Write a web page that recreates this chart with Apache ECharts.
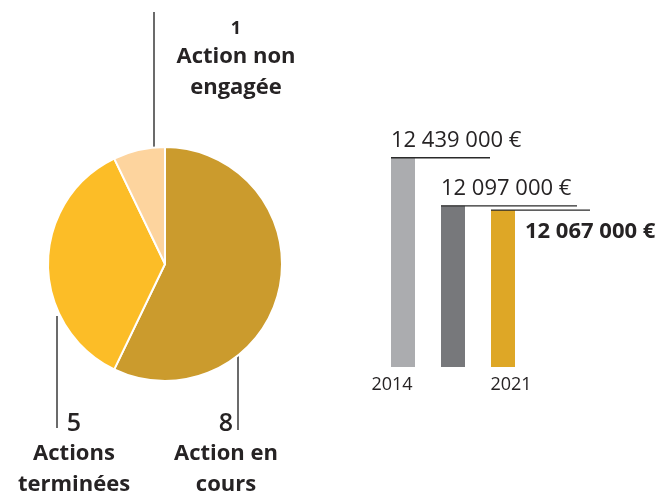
<!DOCTYPE html>
<html>
<head>
<meta charset="utf-8">
<script src="https://cdn.jsdelivr.net/npm/echarts@6/dist/echarts.min.js"></script>
<style>
  html, body { margin: 0; padding: 0; background: #fff; }
  #main { width: 661px; height: 493px; }
</style>
</head>
<body>
<div id="main"></div>
<script>
// données du camembert
var pieNames = ['Action en\ncours', 'Actions\nterminées', 'Action non\nengagée'];
var pieValues = [8, 5, 1];
// données des barres
var barYears = ['2014', '', '2021'];
var barValues = [12439000, 12097000, 12067000];

var pieColors = ['#CB9B2D', '#FCBD27', '#FDD49E'];
var barColors = ['#ABACAF', '#77787B', '#DEA726'];

// placement des étiquettes du camembert (x centre, y haut, trait vertical)
var pieLabelPos = [
  { x: 226, y: 410, lineX: 238, lineTop: 324, lineBottom: 430, big: true },
  { x: 74, y: 410, lineX: 57, lineTop: 316, lineBottom: 428, big: true },
  { x: 236, y: 16, lineX: 154, lineTop: 12, lineBottom: 198, big: false }
];
// style des annotations de barres
var barNotes = [
  { len: 99, dx: 0, dy: -6, vAlign: 'bottom', bold: false },
  { len: 136, dx: 0, dy: -6, vAlign: 'bottom', bold: false },
  { len: 99, dx: 34, dy: 11, vAlign: 'top', bold: true }
];

var FONT = '"Open Sans", "Noto Sans", sans-serif';
var TXT = '#262324';

function euros(v) {
  return String(v).replace(/\B(?=(\d{3})+(?!\d))/g, ' ') + ' €';
}

var chart = echarts.init(document.getElementById('main'));
var option = {
  animation: false,
  textStyle: { fontFamily: FONT },
  grid: { left: 378, width: 150, top: 100, bottom: 126 },
  xAxis: {
    type: 'category',
    data: barYears,
    axisLine: { show: false },
    axisTick: { show: false },
    axisLabel: {
      margin: 9,
      color: TXT,
      fontSize: 18,
      fontFamily: FONT,
      formatter: function (v, i) {
        if (!v) return '';
        return i === 0 ? '{l|' + v + '}' : '{r|' + v + '}';
      },
      rich: {
        l: { fontSize: 18, color: TXT, padding: [0, 22, 0, 0] },
        r: { fontSize: 18, color: TXT, padding: [0, 0, 0, 16] }
      }
    }
  },
  yAxis: {
    type: 'value',
    min: 10950,
    max: 12850,
    show: false,
    splitLine: { show: false }
  },
  series: [
    {
      type: 'pie',
      center: [165, 264],
      radius: 117,
      startAngle: 90,
      clockwise: true,
      silent: true,
      itemStyle: { borderColor: '#fff', borderWidth: 2 },
      data: pieValues.map(function (v, i) {
        return { value: v, name: pieNames[i], itemStyle: { color: pieColors[i] } };
      }),
      label: {
        show: true,
        position: 'outside',
        overflow: 'none',
        width: 200,
        formatter: function (p) {
          var big = pieLabelPos[p.dataIndex].big;
          return (big ? '{nb|' : '{ns|') + p.value + '}\n{t|' + p.name + '}';
        },
        rich: {
          nb: { fontSize: 25, fontWeight: 600, color: TXT, lineHeight: 28, fontFamily: FONT },
          ns: { fontSize: 18, fontWeight: 700, color: TXT, lineHeight: 25, fontFamily: FONT },
          t: { fontSize: 22, fontWeight: 700, color: TXT, lineHeight: 31, fontFamily: FONT, align: 'center' }
        }
      },
      labelLine: {
        show: true,
        lineStyle: { color: '#3a3a3a', width: 1.5 }
      },
      labelLayout: function (params) {
        var c = pieLabelPos[params.dataIndex];
        return {
          x: c.x,
          y: c.y,
          align: 'center',
          verticalAlign: 'top',
          hideOverlap: false,
          labelLinePoints: [[c.lineX, c.lineTop], [c.lineX, (c.lineTop + c.lineBottom) / 2], [c.lineX, c.lineBottom]]
        };
      }
    },
    {
      type: 'bar',
      barWidth: 24,
      silent: true,
      data: barValues.map(function (v, i) {
        return { value: v / 1000, itemStyle: { color: barColors[i] } };
      })
    },
    {
      type: 'custom',
      silent: true,
      z: 5,
      data: barValues.map(function (v, i) { return [i, v / 1000]; }),
      renderItem: function (params, api) {
        var i = params.dataIndex;
        var note = barNotes[i];
        var pt = api.coord([api.value(0), api.value(1)]);
        var left = pt[0] - 12;
        var y = pt[1];
        return {
          type: 'group',
          children: [
            {
              type: 'line',
              shape: { x1: left, y1: y, x2: left + note.len, y2: y },
              style: { stroke: '#2a2a2a', lineWidth: 1.3 }
            },
            {
              type: 'text',
              style: {
                text: euros(barValues[i]),
                x: left + note.dx,
                y: y + note.dy,
                verticalAlign: note.vAlign,
                align: 'left',
                fill: TXT,
                font: (note.bold ? '700 ' : '400 ') + '22px ' + FONT
              }
            }
          ]
        };
      }
    }
  ]
};
chart.setOption(option);
</script>
</body>
</html>
